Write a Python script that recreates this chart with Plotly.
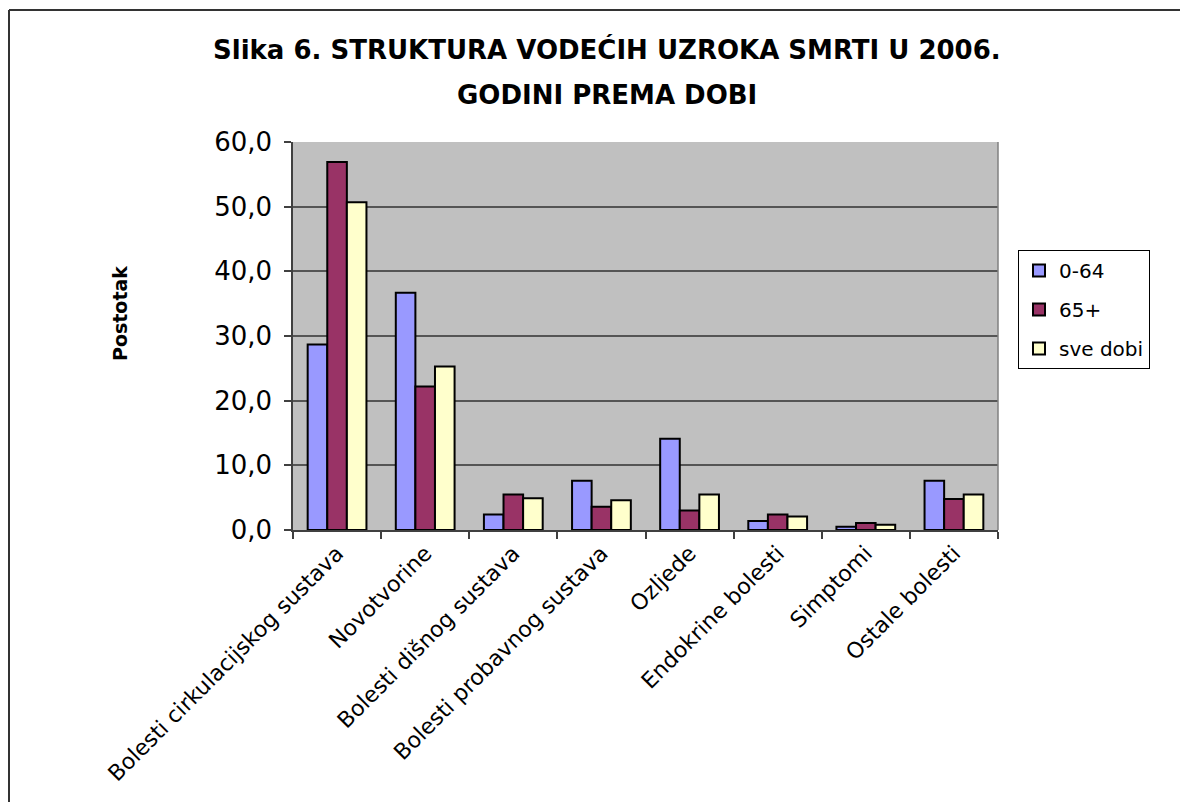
import plotly.graph_objects as go

categories = ["Bolesti cirkulacijskog sustava", "Novotvorine", "Bolesti dišnog sustava",
              "Bolesti probavnog sustava", "Ozljede", "Endokrine bolesti", "Simptomi", "Ostale bolesti"]
v_0_64 = [28.7, 36.7, 2.4, 7.6, 14.1, 1.4, 0.5, 7.6]
v_65 = [56.9, 22.2, 5.5, 3.6, 3.0, 2.4, 1.1, 4.8]
v_sve = [50.7, 25.3, 4.9, 4.6, 5.5, 2.1, 0.8, 5.5]
series_names = ["0-64", "65+", "sve dobi"]
y_ticks = [0, 10, 20, 30, 40, 50, 60]
title_lines = ["Slika 6. STRUKTURA VODEĆIH UZROKA SMRTI U 2006.", "GODINI PREMA DOBI"]

# page body has an 8px margin: work in reference pixel coords and shift
OFF = 8
W, H = 1188 - OFF, 802 - OFF
L, R, T, B = 293 - OFF, 998 - OFF, 142 - OFF, 530 - OFF

FONT = "DejaVu Sans, Liberation Sans, Arial, sans-serif"
colors = ["#9999FF", "#993366", "#FFFFCC"]

fig = go.Figure()
for i, (name, vals) in enumerate(zip(series_names, [v_0_64, v_65, v_sve])):
    fig.add_trace(go.Bar(
        x=categories, y=vals, name=name, legendgroup=name,
        marker=dict(color=colors[i], line=dict(color="black", width=2)),
    ))


def px_x(p):
    return (p - OFF - L) / (R - L)


def px_y(p):
    return (B - (p - OFF)) / (B - T)


fig.update_layout(
    width=W, height=H,
    margin=dict(l=L, r=W - R, t=T, b=H - B, pad=0),
    paper_bgcolor="white", plot_bgcolor="#C0C0C0",
    barmode="group", bargap=0.333, bargroupgap=0,
    separators=",.",
    font=dict(family=FONT, color="black"),
    xaxis=dict(tickangle=-45, tickfont=dict(size=22), ticks="outside", ticklen=7,
               tickson="boundaries", tickcolor="#404040", tickwidth=1.5,
               showline=True, linecolor="#404040", linewidth=1.5, mirror=False,
               showgrid=False),
    yaxis=dict(range=[0, 60], tickvals=y_ticks, tickformat=".1f", tickfont=dict(size=26),
               ticks="outside", ticklen=7, tickcolor="#404040", tickwidth=1.5,
               ticklabelstandoff=7,
               showline=True, linecolor="#404040", linewidth=1.5,
               showgrid=True, gridcolor="#555555", gridwidth=1.5, zeroline=False),
    legend=dict(x=px_x(1018), y=px_y(250), xanchor="left", yanchor="top",
                bgcolor="white", bordercolor="black", borderwidth=1,
                font=dict(size=20), traceorder="grouped", tracegroupgap=10,
                itemsizing="constant", itemwidth=30),
    showlegend=True,
)

# right plot-area border
fig.add_shape(type="line", xref="paper", yref="paper", x0=1, x1=1, y0=0, y1=1,
              line=dict(color="#808080", width=1.5))
# outer chart frame (left and top edges)
fig.add_shape(type="line", xref="paper", yref="paper", x0=px_x(9), x1=px_x(9),
              y0=px_y(10), y1=px_y(802 + 5), line=dict(color="#333333", width=2))
fig.add_shape(type="line", xref="paper", yref="paper", x0=px_x(9), x1=px_x(1188 + 5),
              y0=px_y(10), y1=px_y(10), line=dict(color="#333333", width=2))

for txt, yc in zip(title_lines, [50, 95]):
    fig.add_annotation(text="<b>" + txt + "</b>", xref="paper", yref="paper",
                       x=px_x(607), y=px_y(yc), showarrow=False,
                       font=dict(size=26, family=FONT), xanchor="center", yanchor="middle")

fig.add_annotation(text="<b>Postotak</b>", xref="paper", yref="paper",
                   x=px_x(120), y=px_y(314), textangle=-90, showarrow=False,
                   font=dict(size=19, family=FONT), xanchor="center", yanchor="middle")

fig.write_html("out.html")
